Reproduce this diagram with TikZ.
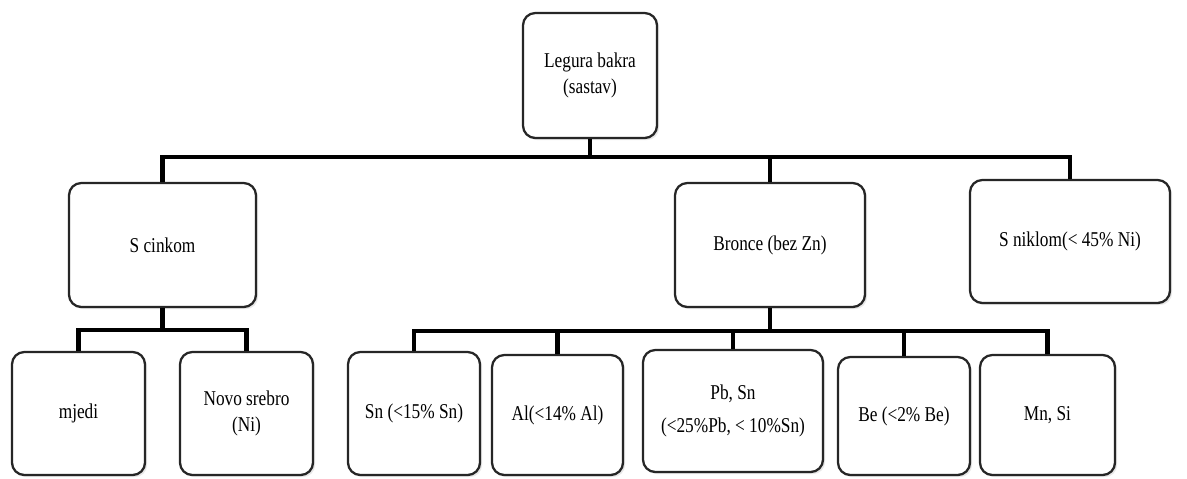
\documentclass[tikz,border=0pt]{standalone}
\usepackage{fontspec}
\setmainfont[FakeStretch=0.82]{Liberation Serif}
\usetikzlibrary{shadows}

\begin{document}
\begin{tikzpicture}[x=0.02cm, y=-0.02cm,
    kutija/.style={draw=black!85, line width=1.3pt, rounded corners=7pt, fill=white, align=center, inner sep=2pt,
      font=\fontsize{12}{15}\selectfont,
      drop shadow={opacity=0.18, shadow xshift=1.2pt, shadow yshift=-1.2pt}},
    veza/.style={draw=black, line width=2.8pt, line join=miter}]
      \useasboundingbox (0,0) rectangle (1187,478);
      % vrh
      \node[kutija, minimum width=134*0.02cm, minimum height=125*0.02cm] (legura) at (590,75.5) {Legura bakra\\(sastav)};
      %
      \node[kutija, minimum width=187*0.02cm, minimum height=124*0.02cm] (cink) at (162.5,245) {S cinkom};
      \node[kutija, minimum width=190*0.02cm, minimum height=124*0.02cm] (bronca) at (770,245) {Bronce (bez Zn)};
      \node[kutija, minimum width=200*0.02cm, minimum height=123*0.02cm] (nikal) at (1070,241.5) {S niklom(< 45\% Ni)};
      %
      \node[kutija, minimum width=133*0.02cm, minimum height=123*0.02cm] (mjedi) at (78.5,413.5) {mjedi};
      \node[kutija, minimum width=133*0.02cm, minimum height=123*0.02cm] (novo) at (246.5,413.5) {Novo srebro\\(Ni)};
      %
      \node[kutija, minimum width=132*0.02cm, minimum height=123*0.02cm] (sn) at (414,413.5) {Sn (<15\% Sn)};
      \node[kutija, minimum width=131*0.02cm, minimum height=120*0.02cm] (al) at (557.5,415) {Al(<14\% Al)};
      \node[kutija, minimum width=180*0.02cm, minimum height=122*0.02cm] (pb) at (733,411) {Pb, Sn\\[4pt](<25\%Pb, < 10\%Sn)};
      \node[kutija, minimum width=132*0.02cm, minimum height=118*0.02cm] (be) at (904,416) {Be (<2\% Be)};
      \node[kutija, minimum width=135*0.02cm, minimum height=120*0.02cm] (mn) at (1047.5,415) {Mn, Si};
      %
      \coordinate (sab1) at (0,157);
      \coordinate (sab2) at (0,330);
      \coordinate (sab3) at (0,331);
      %
      \draw[veza] (legura.south) -- (legura.south |- sab1) -| (cink.north);
      \draw[veza] (legura.south) -- (legura.south |- sab1) -| (bronca.north);
      \draw[veza] (legura.south) -- (legura.south |- sab1) -| (nikal.north);
      %
      \draw[veza] (cink.south) -- (cink.south |- sab2) -| (mjedi.north);
      \draw[veza] (cink.south) -- (cink.south |- sab2) -| (novo.north);
      %
      \draw[veza] (bronca.south) -- (bronca.south |- sab3) -| (sn.north);
      \draw[veza] (bronca.south) -- (bronca.south |- sab3) -| (al.north);
      \draw[veza] (bronca.south) -- (bronca.south |- sab3) -| (pb.north);
      \draw[veza] (bronca.south) -- (bronca.south |- sab3) -| (be.north);
      \draw[veza] (bronca.south) -- (bronca.south |- sab3) -| (mn.north);
    \end{tikzpicture}
\end{document}
